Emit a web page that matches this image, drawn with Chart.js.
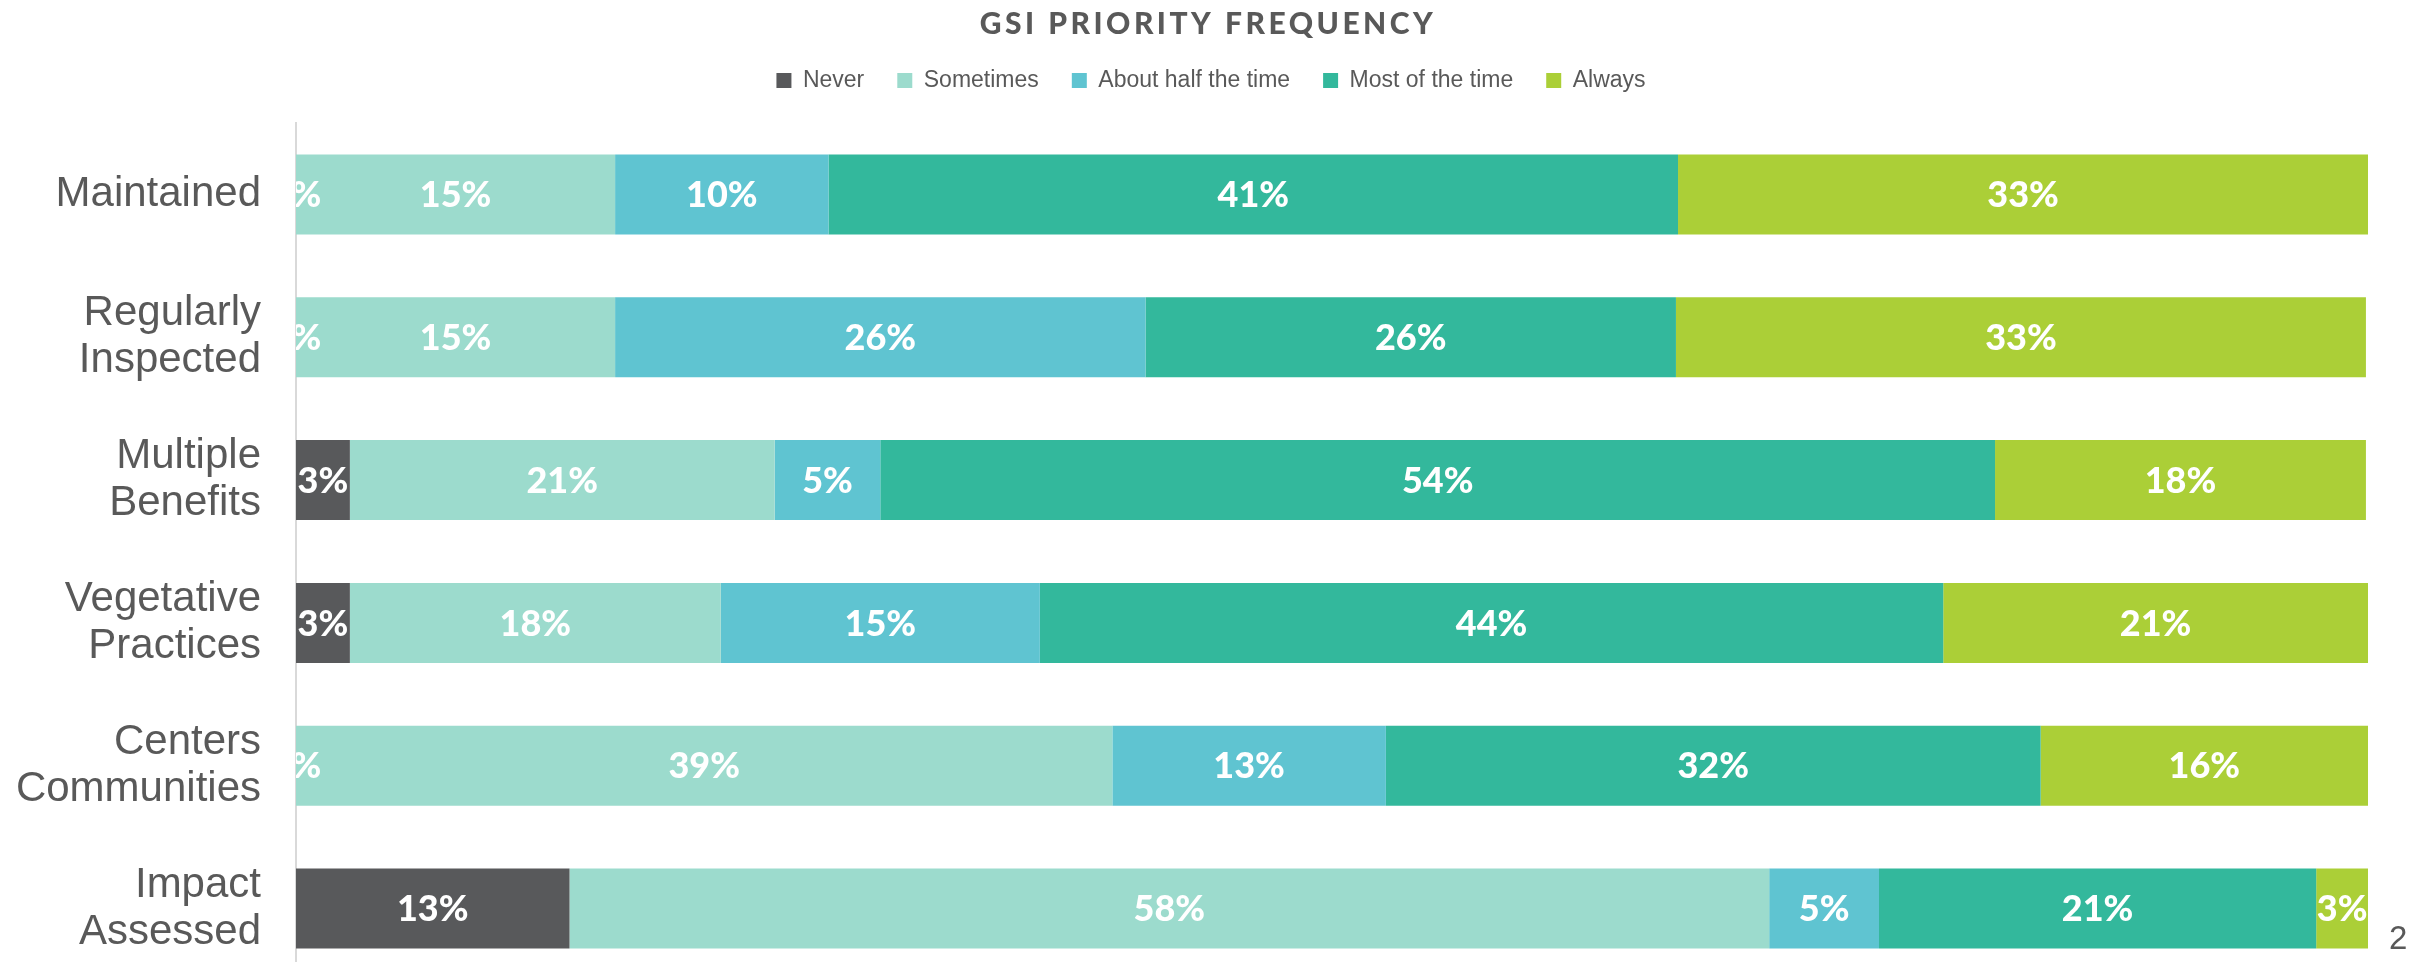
<!DOCTYPE html>
<html>
<head>
<meta charset="utf-8">
<title>GSI Priority Frequency</title>
<script src="https://cdn.jsdelivr.net/npm/chart.js@4"></script>
<style>
    html, body { margin: 0; padding: 0; background: #fff; overflow: hidden; }
    #wrap { position: relative; width: 2430px; height: 980px; }
    #page-num {
        position: absolute; left: 2389px; top: 919px;
        font-family: 'Liberation Sans', Arial, sans-serif; font-size: 33px; color: #595959;
    }
</style>
</head>
<body>
<div id="wrap">
    <canvas id="gsiChart"></canvas>
    <div id="page-num">2</div>
</div>
<script>
// --- DATA (share of respondents) ---
const chartTitle = 'GSI PRIORITY FREQUENCY';
const categories = [
    'Maintained',
    ['Regularly', 'Inspected'],
    ['Multiple', 'Benefits'],
    ['Vegetative', 'Practices'],
    ['Centers', 'Communities'],
    ['Impact', 'Assessed']
];
const seriesNames = ['Never', 'Sometimes', 'About half the time', 'Most of the time', 'Always'];
const never     = [0,    0,    2.6,  2.6,  0,    13.2];
const sometimes = [15.4, 15.4, 20.5, 17.9, 39.4, 57.9];
const halfTime  = [10.3, 25.6, 5.1,  15.4, 13.2, 5.3];
const mostTime  = [41.0, 25.6, 53.8, 43.6, 31.6, 21.1];
const always    = [33.3, 33.3, 17.9, 20.5, 15.8, 2.5];
const seriesColors = ['#58595b', '#9cdbcd', '#5fc4d1', '#33b89c', '#abcf37'];

const textGray = '#595959';

// white % labels in the middle of each segment, clipped to the plot area
const barLabels = {
    id: 'barLabels',
    afterDatasetsDraw(chart) {
        const { ctx, chartArea } = chart;
        ctx.save();
        ctx.beginPath();
        ctx.rect(chartArea.left, chartArea.top, chartArea.width, chartArea.height);
        ctx.clip();
        ctx.font = '900 36px Lato, sans-serif';
        ctx.fillStyle = '#ffffff';
        ctx.textAlign = 'center';
        ctx.textBaseline = 'middle';
        chart.data.datasets.forEach((ds, i) => {
            chart.getDatasetMeta(i).data.forEach((bar, j) => {
                const x = (bar.x + bar.base) / 2;
                ctx.fillText(Math.round(ds.data[j]) + '%', x, bar.y + 1);
            });
        });
        ctx.restore();
    }
};

// spaced-out heading (Chart.js title has no letter spacing)
const spacedTitle = {
    id: 'spacedTitle',
    afterDraw(chart) {
        const ctx = chart.ctx;
        ctx.save();
        ctx.font = '900 30px Lato, sans-serif';
        ctx.letterSpacing = '3.5px';
        ctx.fillStyle = textGray;
        ctx.textAlign = 'center';
        ctx.textBaseline = 'middle';
        ctx.fillText(chartTitle, chart.width / 2 - 7, 24);
        ctx.restore();
    }
};

// legend sits a bit right of the page centre in the original
const legendShift = {
    id: 'legendShift',
    afterLayout(chart) {
        if (chart.legend) {
            chart.legend.left += 27;
            chart.legend.right += 27;
        }
    }
};

const allSeries = [never, sometimes, halfTime, mostTime, always];

new Chart(document.getElementById('gsiChart'), {
    type: 'bar',
    data: {
        labels: categories,
        datasets: allSeries.map((vals, i) => ({
            label: seriesNames[i],
            data: vals,
            backgroundColor: seriesColors[i],
            borderWidth: 0,
            categoryPercentage: 1,
            barPercentage: 0.56
        }))
    },
    options: {
        indexAxis: 'y',
        responsive: true,
        maintainAspectRatio: false,
        animation: false,
        layout: { padding: { top: 36, right: 62, left: 0, bottom: 0 } },
        plugins: {
            tooltip: { enabled: false },
            title: { display: false },
            legend: {
                position: 'top',
                align: 'center',
                labels: {
                    boxWidth: 15,
                    boxHeight: 15,
                    padding: 33,
                    color: textGray,
                    font: { family: "'Liberation Sans', Arial, sans-serif", size: 23 }
                }
            }
        },
        scales: {
            x: {
                stacked: true,
                position: 'top',
                min: 0,
                max: 100,
                grid: { display: false },
                border: { display: false },
                ticks: { display: false },
                afterFit(scale) { scale.height = 21; }
            },
            y: {
                stacked: true,
                grid: { display: false, drawTicks: false },
                border: { display: true, color: '#d9d9d9', width: 2 },
                ticks: {
                    color: textGray,
                    padding: 35,
                    font: { family: "'Liberation Sans', Arial, sans-serif", size: 42, lineHeight: 1.12 }
                },
                afterFit(scale) {
                    scale.width = 296;
                    scale.paddingTop = 0;
                    scale.paddingBottom = 0;
                }
            }
        }
    },
    plugins: [barLabels, spacedTitle, legendShift]
});
</script>
</body>
</html>
